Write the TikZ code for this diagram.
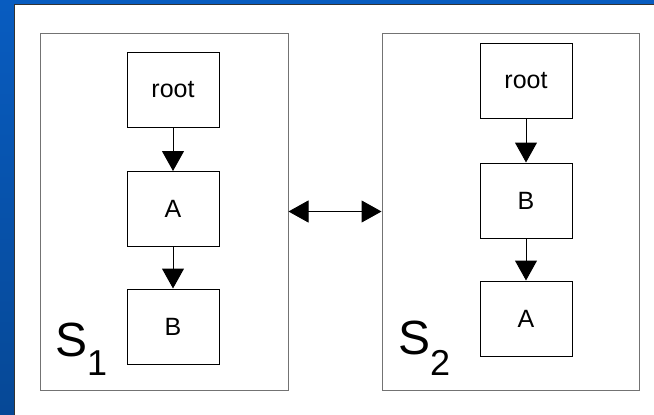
\documentclass[tikz,border=0pt]{standalone}
\usepackage{fontspec}
\setmainfont{Liberation Sans}
\usetikzlibrary{arrows.meta}
\definecolor{slideblue}{RGB}{8,92,192}
\definecolor{slidedark}{RGB}{6,72,150}
\tikzset{
  elem/.style={draw=black, line width=1pt, minimum width=92pt, minimum height=75pt,
    inner sep=0pt, font=\fontsize{25}{25}\selectfont},
  setbox/.style={draw=black!55, line width=1pt, inner sep=0pt},
  setname/.style={anchor=base west, inner sep=0pt, font=\fontsize{48}{48}\selectfont},
  link/.style={-{Triangle[length=20pt,width=22pt]}, line width=1pt},
  swap/.style={{Triangle[length=20pt,width=22pt]}-{Triangle[length=20pt,width=22pt]}, line width=1pt},
}
\newcommand{\setidx}[2]{\raisebox{-#1pt}{\fontsize{36}{36}\selectfont #2}}
\begin{document}
\begin{tikzpicture}[x=1pt,y=-1pt]
\useasboundingbox (0,0) rectangle (654,415);
% slide frame
\shade[top color=slideblue, bottom color=slidedark] (0,0) rectangle (654,415);
\fill[white] (14,4) rectangle (654,415);
\draw[black!80, line width=1pt] (14,415) -- (14,4) -- (654,4);

% the two sets
\node[setbox, minimum width=248pt, minimum height=357pt] (s1) at (164,211.5) {};
\node[setbox, minimum width=257pt, minimum height=357pt] (s2) at (510.5,211.5) {};
\node[setname] (n1) at (55,356) {S\setidx{19}{1}};
\node[setname] (n2) at (398,354) {S\setidx{21}{2}};

% first tree
\node[elem] (root1) at (173,89.5) {root};
\node[elem] (a1) at (173,209) {A};
\node[elem] (b1) at (173,326.5) {B};
\draw[link] (root1) -- (a1);
\draw[link] (a1) -- (b1);

% second tree
\node[elem] (root2) at (526,80.5) {root};
\node[elem] (b2) at (526,200.5) {B};
\node[elem] (a2) at (526,318.5) {A};
\draw[link] (root2) -- (b2);
\draw[link] (b2) -- (a2);

\draw[swap] (s1) -- (s2);
\end{tikzpicture}
\end{document}
